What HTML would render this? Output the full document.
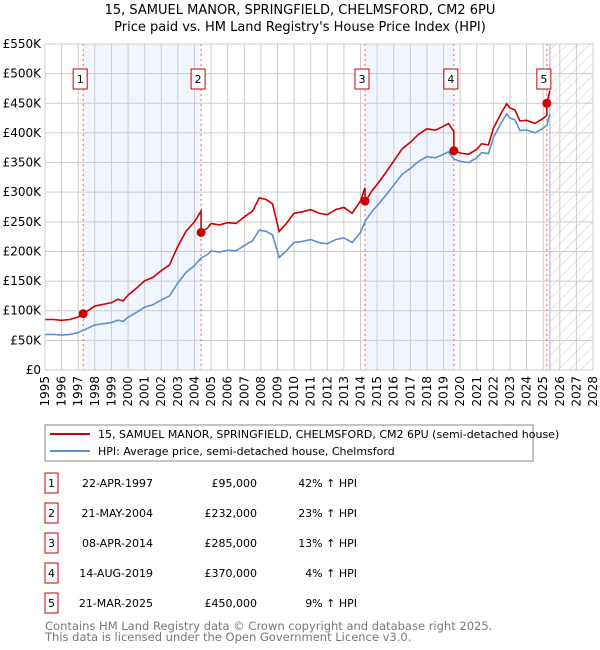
<!DOCTYPE html>
<html><head><meta charset="utf-8"><style>
body{margin:0;background:#fff;font-family:"Liberation Sans","DejaVu Sans",sans-serif;}
#wrap{position:relative;width:600px;height:650px;overflow:hidden}
svg text{font-family:"DejaVu Sans","Liberation Sans",sans-serif}
</style></head><body><div id="wrap">
<svg id="svg" width="600" height="650" xmlns="http://www.w3.org/2000/svg">
<defs><pattern id="hatch" width="8" height="8" patternUnits="userSpaceOnUse" patternTransform="rotate(45)"><line x1="0" y1="0" x2="0" y2="8" stroke="#ccc" stroke-width="1"/></pattern></defs>
<text x="300" y="14" text-anchor="middle" font-size="13">15, SAMUEL MANOR, SPRINGFIELD, CHELMSFORD, CM2 6PU</text>
<text x="300" y="31" text-anchor="middle" font-size="13">Price paid vs. HM Land Registry's House Price Index (HPI)</text>
<g id="g"></g>
<rect x="45" y="425" width="488" height="36" fill="#fff" stroke="#888"/>
<line x1="50" y1="434" x2="90" y2="434" stroke="#cc0000" stroke-width="2"/>
<text x="98" y="438" font-size="11">15, SAMUEL MANOR, SPRINGFIELD, CHELMSFORD, CM2 6PU (semi-detached house)</text>
<line x1="50" y1="451" x2="90" y2="451" stroke="#5b8fd0" stroke-width="2"/>
<text x="98" y="455" font-size="11">HPI: Average price, semi-detached house, Chelmsford</text>
<g id="tbl"></g>
<text x="45" y="630" font-size="11.5" fill="#777">Contains HM Land Registry data © Crown copyright and database right 2025.</text>
<text x="45" y="641" font-size="11.5" fill="#777">This data is licensed under the Open Government Licence v3.0.</text>
</svg></div>
<script>
const hpiYears=[1995,1995.5,1996,1996.5,1997,1997.3,1997.7,1998,1998.5,1999,1999.4,1999.7,2000,2000.5,2001,2001.5,2002,2002.5,2003,2003.5,2004,2004.4,2004.8,2005,2005.5,2006,2006.5,2007,2007.5,2007.9,2008.3,2008.7,2009.1,2009.5,2010,2010.5,2011,2011.5,2012,2012.5,2013,2013.5,2014,2014.3,2014.7,2015,2015.5,2016,2016.5,2017,2017.5,2018,2018.5,2019,2019.3,2019.62,2020,2020.5,2021,2021.3,2021.7,2022,2022.5,2022.8,2023,2023.3,2023.6,2024,2024.5,2025,2025.22,2025.4];
const hpiValues=[60,60,59,60,63,67,72,76,78,80,84,82,89,97,106,110,118,125,147,165,176,189,195,201,199,202,201,210,218,236,234,228,190,200,215,217,220,215,213,220,223,215,232,252,268,277,294,312,330,340,352,360,358,364,368,356,352,350,358,367,365,392,418,432,425,422,404,405,400,408,413,432];
const saleDates=[1997.3,2004.4,2014.27,2019.62,2025.22];
const salePrices=[95,232,285,370,450];
const salePct=[42,23,13,4,9];
const saleLabels=["22-APR-1997","21-MAY-2004","08-APR-2014","14-AUG-2019","21-MAR-2025"];
const yTicks=[0,50,100,150,200,250,300,350,400,450,500,550];
const xTicks=[];for(let y=1995;y<=2028;y++)xTicks.push(y);

const X0=45,X1=593,Y0=370,Y1=44;
const xs=t=>X0+(t-1995)/(2028-1995)*(X1-X0);
const ys=v=>Y0-v/550*(Y0-Y1);
const NS="http://www.w3.org/2000/svg";
const g=document.getElementById('g');
function mk(tag,at,parent){const e=document.createElementNS(NS,tag);for(const k in at)e.setAttribute(k,at[k]);(parent||g).appendChild(e);return e;}
for(let i=0;i<saleDates.length-1;i+=2){
 const r=mk('rect',{x:xs(saleDates[i]),y:Y1,width:xs(saleDates[i+1])-xs(saleDates[i]),height:Y0-Y1,fill:'#eef3fd',opacity:0.8});
 
 
}
const lastX=xs(hpiYears[hpiYears.length-1]);
const hz=mk('rect',{x:lastX,y:Y1,width:X1-lastX,height:Y0-Y1,fill:'url(#hatch)'});


xTicks.forEach(t=>{const l=mk('line',{x1:xs(t),x2:xs(t),y1:Y1,y2:Y0,stroke:'#ccc'});
 
 
 const tx=mk('text',{x:0,y:0,'font-size':12,'text-anchor':'end',transform:`translate(${xs(t)+4},${Y0+6}) rotate(-90)`});tx.textContent=t;
 
 });
yTicks.forEach(v=>{const l=mk('line',{x1:X0,x2:X1,y1:ys(v),y2:ys(v),stroke:'#ccc'});
 
 
 const tx=mk('text',{x:X0-4,y:ys(v)+4,'font-size':12,'text-anchor':'end'});tx.textContent=v===0?'£0':'£'+v+'K';
 
 });
const lv=mk('line',{x1:lastX,x2:lastX,y1:Y1,y2:Y0,stroke:'#b8cbe8','stroke-width':1.5});


saleDates.forEach((d,i)=>{const l=mk('line',{x1:xs(d),x2:xs(d),y1:Y1,y2:Y0,stroke:'#f06060','stroke-dasharray':'2,3'});
 
 
 const b=mk('rect',{x:xs(d)-10,y:69,width:14,height:20,fill:'#fff',stroke:'#cc0000'});
 
 
 const t=mk('text',{x:xs(d)-3,y:83,'font-size':11,'text-anchor':'middle'});t.textContent=i+1;
 
 });
function interp(t){for(let i=0;i<hpiYears.length-1;i++){if(t>=hpiYears[i]&&t<=hpiYears[i+1]){const f=(t-hpiYears[i])/(hpiYears[i+1]-hpiYears[i]);return hpiValues[i]+f*(hpiValues[i+1]-hpiValues[i]);}}return hpiValues[hpiValues.length-1];}
const hp=hpiYears.map((t,i)=>xs(t)+','+ys(hpiValues[i])).join(' ');
const hl=mk('polyline',{points:hp,fill:'none',stroke:'#5b8fd0','stroke-width':1.6});


function ratioAt(t){let k=0;for(let i=0;i<saleDates.length;i++)if(t>=saleDates[i])k=i;return 1+salePct[k]/100;}
let pts=[];
hpiYears.forEach((t,i)=>{
 saleDates.forEach((d,j)=>{if(i>0&&d>hpiYears[i-1]&&d<=t){const h=interp(d);pts.push([d,h*(1+salePct[j>0?j-1:0]/100)]);pts.push([d,salePrices[j]]);}});
 pts.push([t,hpiValues[i]*ratioAt(t)]);});
const rl=mk('polyline',{points:pts.map(p=>xs(p[0])+','+ys(p[1])).join(' '),fill:'none',stroke:'#cc0000','stroke-width':1.6});


saleDates.forEach((d,i)=>{const c=mk('circle',{cx:xs(d),cy:ys(salePrices[i]),r:4.5,fill:'#cc0000'});
 
 });
mk('rect',{x:X0,y:Y1,width:X1-X0,height:Y0-Y1,fill:'none',stroke:'#ccc'});
const tb=document.getElementById('tbl');
saleDates.forEach((d,i)=>{const cy=483+i*30;
 const b=mk('rect',{x:45,y:cy-10,width:13,height:20,fill:'#fff',stroke:'#cc0000'},tb);
 
 
 const cells=[[51.5,String(i+1),'middle'],[153,saleLabels[i],'end'],[257,'£'+salePrices[i]+',000','end'],[357,salePct[i]+'% ↑ HPI','end']];
 cells.forEach(c=>{const t=mk('text',{x:c[0],y:cy+4,'font-size':11,'text-anchor':c[2]},tb);t.textContent=c[1];
 
 });});
</script></body></html>
